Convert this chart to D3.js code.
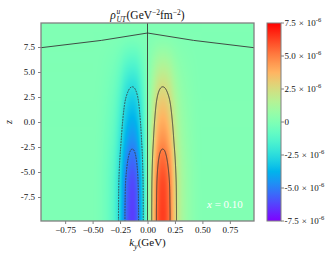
<!DOCTYPE html>
<html>
<head>
<meta charset="utf-8">
<script src="https://cdn.jsdelivr.net/npm/d3@7"></script>
<style>
  body { margin: 0; background: #fff; }
  svg text { font-family: "Liberation Serif", "Times New Roman", serif; fill: #111; }
</style>
</head>
<body>
<svg id="chart" width="335" height="259"></svg>
<script>
// ---- data ----
// ky columns (GeV), right half; the left half is the same with opposite sign
var kyCols = [0, 0.05, 0.10, 0.15, 0.20, 0.25, 0.30, 0.35, 0.40, 0.45, 0.50]
// z rows, top to bottom
var zRows = [10, 9, 8, 7, 6, 5, 4, 3, 2, 1, 0, -1, -2, -3, -4, -5, -6, -7, -8, -9, -10]
// rho (units of 1e-6 GeV^-2 fm^-2), one row per z
var rhoRight = [
  [0, 0.00, 0.00, 0.00, 0.00, 0.00, 0.00, 0.00, 0.00, 0.00, 0.00],
  [0, 0.03, 0.06, 0.06, 0.05, 0.03, 0.02, 0.01, 0.00, 0.00, 0.00],
  [0, 0.16, 0.29, 0.32, 0.26, 0.15, 0.08, 0.04, 0.02, 0.01, 0.00],
  [0, 0.38, 0.70, 0.76, 0.62, 0.36, 0.18, 0.10, 0.05, 0.02, 0.01],
  [0, 0.64, 1.16, 1.26, 1.04, 0.60, 0.30, 0.16, 0.08, 0.03, 0.01],
  [0, 0.90, 1.62, 1.76, 1.46, 0.84, 0.42, 0.22, 0.11, 0.04, 0.01],
  [0, 1.15, 2.09, 2.27, 1.87, 1.08, 0.54, 0.29, 0.14, 0.05, 0.02],
  [0, 1.38, 2.49, 2.71, 2.24, 1.29, 0.65, 0.34, 0.17, 0.06, 0.02],
  [0, 1.60, 2.90, 3.15, 2.60, 1.50, 0.75, 0.40, 0.20, 0.08, 0.03],
  [0, 1.79, 3.25, 3.53, 2.91, 1.68, 0.84, 0.45, 0.22, 0.08, 0.03],
  [0, 1.98, 3.60, 3.91, 3.22, 1.86, 0.93, 0.50, 0.25, 0.09, 0.03],
  [0, 2.18, 3.94, 4.28, 3.54, 2.04, 1.02, 0.54, 0.27, 0.10, 0.03],
  [0, 2.37, 4.29, 4.66, 3.85, 2.22, 1.11, 0.59, 0.30, 0.11, 0.04],
  [0, 2.59, 4.70, 5.10, 4.21, 2.43, 1.22, 0.65, 0.32, 0.12, 0.04],
  [0, 2.78, 5.05, 5.48, 4.52, 2.61, 1.31, 0.70, 0.35, 0.13, 0.04],
  [0, 2.94, 5.34, 5.80, 4.78, 2.76, 1.38, 0.74, 0.37, 0.14, 0.05],
  [0, 3.07, 5.57, 6.05, 4.99, 2.88, 1.44, 0.77, 0.38, 0.14, 0.05],
  [0, 3.14, 5.68, 6.17, 5.10, 2.94, 1.47, 0.78, 0.39, 0.15, 0.05],
  [0, 3.17, 5.74, 6.24, 5.15, 2.97, 1.49, 0.79, 0.40, 0.15, 0.05],
  [0, 3.20, 5.80, 6.30, 5.20, 3.00, 1.50, 0.80, 0.40, 0.15, 0.05],
  [0, 3.20, 5.80, 6.30, 5.20, 3.00, 1.50, 0.80, 0.40, 0.15, 0.05]
]
var contourLevels = [-5, -2.5, 2.5, 5]
// zero contour near the top, [ky, z]
var zeroLineTop = [[-0.97, 7.43], [-0.42, 8.16], [0, 8.9], [0.42, 8.16], [0.97, 7.43]]
var zeroLineKy = 0

var xTicks = [-0.75, -0.5, -0.25, 0, 0.25, 0.5, 0.75]
var yTicks = [7.5, 5, 2.5, 0, -2.5, -5, -7.5]
var cbTicks = [7.5, 5, 2.5, 0, -2.5, -5, -7.5]

// ---- layout ----
var margin = {top: 23, left: 41}
var width = 213
var height = 198

var svg = d3.select('#chart')

var x = d3.scaleLinear().domain([-0.97, 0.97]).range([margin.left, margin.left + width])
var y = d3.scaleLinear().domain([-9.9, 9.9]).range([margin.top + height, margin.top])
var cb = d3.scaleLinear().domain([-7.5, 7.5]).range([margin.top + height, margin.top])

// matplotlib 'rainbow'
function rainbow(t) {
  t = Math.max(0, Math.min(1, t))
  var r = Math.min(1, Math.abs(2 * t - 0.5))
  var g = Math.sin(Math.PI * t)
  var b = Math.cos(Math.PI * t / 2)
  return [Math.round(r * 255), Math.round(g * 255), Math.round(b * 255)]
}
var toUnit = cb.copy().range([0, 1])
function colorOf(v) {
  return rainbow(toUnit(v))
}

// full grid (ky from -0.5 to 0.5)
var kyAll = kyCols.slice(1).map(d => -d).reverse().concat(kyCols)
var grid = rhoRight.map(row => row.slice(1).map(v => -v).reverse().concat(row))
var nr = grid.length, nc = kyAll.length

function cr(p0, p1, p2, p3, t) {
  return 0.5 * (2 * p1 + (p2 - p0) * t + (2 * p0 - 5 * p1 + 4 * p2 - p3) * t * t +
    (3 * p1 - p0 - 3 * p2 + p3) * t * t * t)
}
function at(r, c) {
  r = Math.max(0, Math.min(nr - 1, r))
  c = Math.max(0, Math.min(nc - 1, c))
  return grid[r][c]
}
function sample(ky, z) {
  var fx = (ky - kyAll[0]) / (kyAll[1] - kyAll[0])
  var fy = (zRows[0] - z) / (zRows[0] - zRows[1])
  fx = Math.max(0, Math.min(nc - 1, fx))
  fy = Math.max(0, Math.min(nr - 1, fy))
  var ix = Math.min(Math.floor(fx), nc - 2)
  var iy = Math.min(Math.floor(fy), nr - 2)
  var tx = fx - ix, ty = fy - iy
  var rows = [-1, 0, 1, 2].map(dr =>
    cr(at(iy + dr, ix - 1), at(iy + dr, ix), at(iy + dr, ix + 1), at(iy + dr, ix + 2), tx))
  return cr(rows[0], rows[1], rows[2], rows[3], ty)
}

// sample the grid on the pixel raster (with a little padding for the contours)
var pad = 3
var gw = width + 2 * pad, gh = height + 2 * pad
var field = new Float64Array(gw * gh)
for (var j = 0; j < gh; j++) {
  for (var i = 0; i < gw; i++) {
    field[j * gw + i] = sample(x.invert(margin.left - pad + i + 0.5), y.invert(margin.top - pad + j + 0.5))
  }
}

// heatmap
var canvas = document.createElement('canvas')
canvas.width = width
canvas.height = height
var ctx = canvas.getContext('2d')
var img = ctx.createImageData(width, height)
for (var j = 0; j < height; j++) {
  for (var i = 0; i < width; i++) {
    var c = colorOf(field[(j + pad) * gw + i + pad])
    var k = (j * width + i) * 4
    img.data[k] = c[0]
    img.data[k + 1] = c[1]
    img.data[k + 2] = c[2]
    img.data[k + 3] = 255
  }
}
ctx.putImageData(img, 0, 0)

svg.append('image')
  .attr('x', margin.left)
  .attr('y', margin.top)
  .attr('width', width)
  .attr('height', height)
  .attr('href', canvas.toDataURL())

svg.append('clipPath')
  .attr('id', 'plot-clip')
  .append('rect')
  .attr('x', margin.left)
  .attr('y', margin.top)
  .attr('width', width)
  .attr('height', height)

var lines = svg.append('g').attr('clip-path', 'url(#plot-clip)')

// contours
var contours = d3.contours().size([gw, gh])
var path = d3.geoPath(d3.geoIdentity().translate([margin.left - pad, margin.top - pad]))
var negField = field.map(v => -v)

contourLevels.forEach(L => {
  var c = L > 0 ? contours.contour(field, L) : contours.contour(negField, -L)
  lines.append('path')
    .attr('d', path(c))
    .attr('fill', 'none')
    .attr('stroke', '#383838')
    .attr('stroke-width', 0.9)
    .attr('stroke-dasharray', L < 0 ? '1.8,1' : null)
})

// zero contour
lines.append('line')
  .attr('x1', x(zeroLineKy))
  .attr('x2', x(zeroLineKy))
  .attr('y1', margin.top)
  .attr('y2', margin.top + height)
  .attr('stroke', '#383838')
  .attr('stroke-width', 0.9)

lines.append('path')
  .datum(zeroLineTop)
  .attr('d', d3.line().x(d => x(d[0])).y(d => y(d[1])))
  .attr('fill', 'none')
  .attr('stroke', '#383838')
  .attr('stroke-width', 0.9)

// frame
svg.append('rect')
  .attr('x', margin.left)
  .attr('y', margin.top)
  .attr('width', width)
  .attr('height', height)
  .attr('fill', 'none')
  .attr('stroke', '#808080')
  .attr('stroke-width', 1.3)

// axes
var xAxis = svg.append('g')
  .attr('transform', 'translate(0,' + (margin.top + height) + ')')
  .call(d3.axisBottom(x).tickValues(xTicks).tickSize(3).tickPadding(3).tickFormat(d3.format('.2f')))
  .attr('font-size', 9)
xAxis.select('.domain').remove()
xAxis.selectAll('.tick line').attr('stroke', '#808080')

var yAxis = svg.append('g')
  .attr('transform', 'translate(' + margin.left + ',0)')
  .call(d3.axisLeft(y).tickValues(yTicks).tickSize(3).tickPadding(3).tickFormat(d => d.toFixed(1)))
  .attr('font-size', 9)
yAxis.select('.domain').remove()
yAxis.selectAll('.tick line').attr('stroke', '#808080')

// axis labels
var xl = svg.append('text')
  .attr('x', x(0))
  .attr('y', 246)
  .attr('text-anchor', 'middle')
  .attr('font-size', 11)
xl.append('tspan').attr('font-style', 'italic').text('k')
xl.append('tspan').attr('font-style', 'italic').attr('font-size', 8).attr('dy', 2.5).text('y')
xl.append('tspan').attr('dy', -2.5).text('(GeV)')

svg.append('text')
  .attr('transform', 'translate(12,' + y(0) + ') rotate(-90)')
  .attr('text-anchor', 'middle')
  .attr('font-size', 10)
  .attr('font-style', 'italic')
  .text('z')

// title
var title = svg.append('g')
var rho = title.append('text').attr('x', 0).attr('y', 19).attr('font-size', 11.5)
  .attr('font-style', 'italic').text('ρ')
var rw = rho.node().getComputedTextLength()
var sup = title.append('text').attr('x', rw + 0.5).attr('y', 14).attr('font-size', 7.5)
  .attr('font-style', 'italic').text('u')
var sub = title.append('text').attr('x', rw + 0.5).attr('y', 22).attr('font-size', 7.5)
  .attr('font-style', 'italic').text('UT')
var sw = Math.max(sup.node().getComputedTextLength(), sub.node().getComputedTextLength())
var unit = title.append('text').attr('x', rw + sw + 1).attr('y', 19).attr('font-size', 11.5)
unit.append('tspan').text('(GeV')
unit.append('tspan').attr('dy', -4.5).attr('font-size', 7.5).text('−2')
unit.append('tspan').attr('dy', 4.5).text('fm')
unit.append('tspan').attr('dy', -4.5).attr('font-size', 7.5).text('−2')
unit.append('tspan').attr('dy', 4.5).text(')')
var tw = rw + sw + 1 + unit.node().getComputedTextLength()
title.attr('transform', 'translate(' + (x(0) - tw / 2) + ',0)')

// x value label
var xv = svg.append('text')
  .attr('x', 207)
  .attr('y', 208)
  .attr('font-size', 11)
  .style('fill', '#fff')
xv.append('tspan').attr('font-style', 'italic').text('x')
xv.append('tspan').text(' = 0.10')

// colorbar
var cbX = 267, cbW = 14
var grad = svg.append('defs').append('linearGradient')
  .attr('id', 'cb-grad')
  .attr('x1', 0).attr('y1', 1).attr('x2', 0).attr('y2', 0)
d3.range(0, 1.0001, 0.05).forEach(t => {
  var c = rainbow(t)
  grad.append('stop')
    .attr('offset', t)
    .attr('stop-color', 'rgb(' + c.join(',') + ')')
})
svg.append('rect')
  .attr('x', cbX)
  .attr('y', margin.top)
  .attr('width', cbW)
  .attr('height', height)
  .attr('fill', 'url(#cb-grad)')
  .attr('stroke', '#808080')
  .attr('stroke-width', 1)

cbTicks.forEach(v => {
  svg.append('line')
    .attr('x1', cbX + cbW).attr('x2', cbX + cbW + 3)
    .attr('y1', cb(v)).attr('y2', cb(v))
    .attr('stroke', '#808080')
  var t = svg.append('text')
    .attr('x', cbX + cbW + 3.5)
    .attr('y', cb(v) + 3)
    .attr('font-size', 9)
  if (v === 0) {
    t.text('0')
  } else {
    t.append('tspan').text(v.toFixed(1))
    t.append('tspan').attr('dx', 3).text('×')
    t.append('tspan').attr('dx', 3).text('10')
    t.append('tspan').attr('dy', -4).attr('font-size', 6.5).text('-6')
  }
})
</script>
</body>
</html>
